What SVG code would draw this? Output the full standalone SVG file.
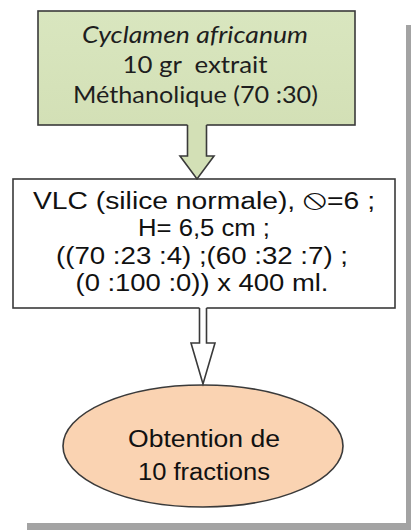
<svg xmlns="http://www.w3.org/2000/svg" width="411" height="530" viewBox="0 0 411 530">
  <defs>
    <linearGradient id="greenGrad" x1="0" y1="0" x2="0" y2="1">
      <stop offset="0" stop-color="#d9e6bf"/>
      <stop offset="1" stop-color="#d3e0b6"/>
    </linearGradient>
    <style>
      .frame { stroke: #3a3a3a; stroke-width: 1.6; }
      .cal { font-family: Lato, "Open Sans", sans-serif; font-size: 24px; fill: #1e1e1e; text-anchor: middle; }
      .ari { font-family: "Liberation Sans", Arial, sans-serif; font-size: 23.5px; fill: #111; text-anchor: middle; }
      .shadow { fill: #a3a3a3; }
    </style>
  </defs>
  <rect width="411" height="530" fill="#ffffff"/>

  <!-- page shadow -->
  <rect class="shadow" x="406" y="25" width="5" height="505"/>
  <rect class="shadow" x="27" y="523" width="384" height="7"/>

  <g id="node-source">
    <rect x="38" y="11" width="317" height="114" fill="url(#greenGrad)" class="frame"/>
    <text class="cal" x="195" y="43" font-style="italic" textLength="226" lengthAdjust="spacingAndGlyphs">Cyclamen africanum</text>
    <text class="cal" x="195" y="73" textLength="145" lengthAdjust="spacingAndGlyphs" xml:space="preserve">10 gr  extrait</text>
    <text class="cal" x="195.5" y="103" textLength="245" lengthAdjust="spacingAndGlyphs">Méthanolique (70 :30)</text>
  </g>

  <g id="node-vlc">
    <rect x="13" y="179" width="382" height="129" fill="#ffffff" class="frame"/>
    <text class="ari" x="204" y="209" textLength="342" lengthAdjust="spacingAndGlyphs">VLC (silice normale), <tspan font-family="DejaVu Sans, sans-serif" font-size="30">⦸</tspan>=6 ;</text>
    <text class="ari" x="204" y="236" textLength="132" lengthAdjust="spacingAndGlyphs">H= 6,5 cm ;</text>
    <text class="ari" x="202" y="264" textLength="292" lengthAdjust="spacingAndGlyphs">((70 :23 :4) ;(60 :32 :7) ;</text>
    <text class="ari" x="202" y="291" textLength="253" lengthAdjust="spacingAndGlyphs">(0 :100 :0)) x 400 ml.</text>
  </g>

  <g id="node-fractions">
    <ellipse cx="203" cy="446" rx="140" ry="61" fill="#fad3b2" class="frame"/>
    <text class="ari" x="204" y="447" font-size="25.5" textLength="152" lengthAdjust="spacingAndGlyphs">Obtention de</text>
    <text class="ari" x="204" y="480" font-size="25.5" textLength="132" lengthAdjust="spacingAndGlyphs">10 fractions</text>
  </g>

  <g id="connectors">
    <polygon points="187.5,124 187.5,156 180,156 197,179 214,156 206.5,156 206.5,124" fill="#d3e0b6"/>
    <path d="M187.5,125 V156 H180 L197,179 L214,156 H206.5 V125" fill="none" class="frame" stroke-linejoin="miter"/>
    <polygon points="199.5,307 199.5,343 191,343 203,384 215,343 206.5,343 206.5,307" fill="#ffffff"/>
    <path d="M199.5,308 V343 H191 L203,384 L215,343 H206.5 V308" fill="none" class="frame"/>
  </g>
</svg>
